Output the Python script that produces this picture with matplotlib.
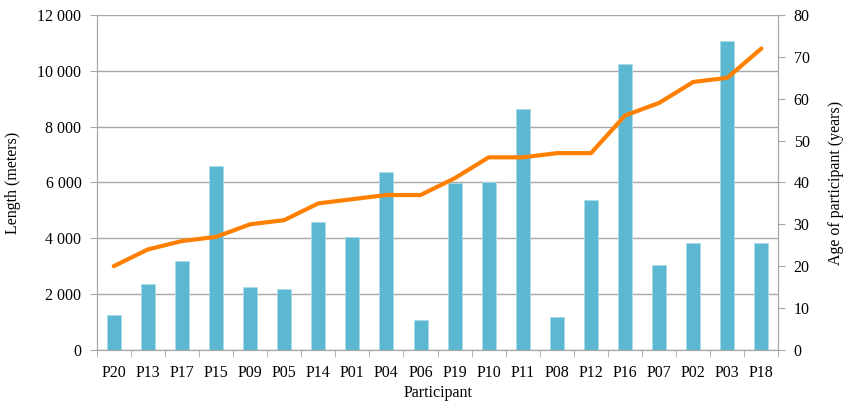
import numpy as np
import matplotlib.pyplot as plt
from matplotlib.ticker import FuncFormatter, MultipleLocator

plt.rcParams['font.family'] = ['Liberation Serif', 'DejaVu Serif']

participants = ["P20", "P13", "P17", "P15", "P09", "P05", "P14", "P01", "P04", "P06",
                "P19", "P10", "P11", "P08", "P12", "P16", "P07", "P02", "P03", "P18"]
length_m = [1250, 2370, 3180, 6600, 2250, 2200, 4600, 4040, 6390, 1080,
            5990, 6010, 8620, 1170, 5360, 10250, 3050, 3820, 11060, 3820]
age_years = [20, 24, 26, 27, 30, 31, 35, 36, 37, 37,
             41, 46, 46, 47, 47, 56, 59, 64, 65, 72]

bar_color = "#5BB8D0"
line_color = "#FF8000"
grid_color = "#A6A6A6"
fs = 11.5

fig = plt.figure(figsize=(8.48, 4.05), dpi=100)
ax = fig.add_axes([0.114, 0.136, 0.804, 0.827])
x = np.arange(len(participants))

ax.bar(x, length_m, width=0.41, color=bar_color, edgecolor="#A8DCE8", linewidth=0.6, zorder=2)
ax.set_ylim(0, 12000)
ax.set_xlim(-0.5, len(participants) - 0.5)
ax.yaxis.set_major_locator(MultipleLocator(2000))
ax.yaxis.set_major_formatter(FuncFormatter(lambda v, p: f"{int(v):,}".replace(",", " ")))
ax.grid(axis="y", color=grid_color, linewidth=1.0, zorder=0)
ax.set_axisbelow(True)

ax.set_xticks(x)
ax.set_xticklabels(participants)
ax.set_xticks(np.arange(-0.5, len(participants)), minor=True)
ax.tick_params(axis="x", which="major", length=0, pad=11)
ax.tick_params(axis="x", which="minor", length=5, color=grid_color)
ax.tick_params(axis="y", length=5, color=grid_color, pad=6)
ax.tick_params(labelsize=fs)

for side in ["left", "bottom", "right"]:
    ax.spines[side].set_color(grid_color)
ax.spines["top"].set_visible(False)

ax.set_ylabel("Length (meters)", fontsize=fs, labelpad=12)
ax.set_xlabel("Participant", fontsize=fs, labelpad=3)

ax2 = ax.twinx()
ax2.plot(x, age_years, color=line_color, linewidth=3, solid_capstyle="round", zorder=3)
ax2.set_ylim(0, 80)
ax2.yaxis.set_major_locator(MultipleLocator(10))
ax2.tick_params(axis="y", length=5, color=grid_color, labelsize=fs, pad=6)
for side in ["left", "bottom", "right"]:
    ax2.spines[side].set_color(grid_color)
ax2.spines["top"].set_visible(False)
ax2.set_ylabel("Age of participant (years)", fontsize=fs, labelpad=13)

fig.savefig("out.png", dpi=100)
